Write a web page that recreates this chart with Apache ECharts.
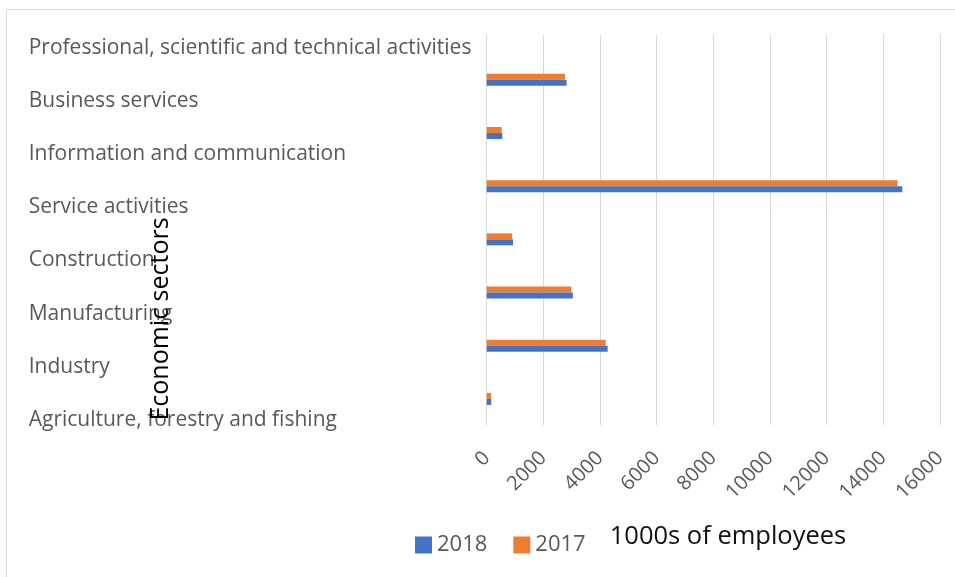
<!DOCTYPE html>
<html>
<head>
<meta charset="utf-8">
<script src="https://cdn.jsdelivr.net/npm/echarts@6/dist/echarts.min.js"></script>
<style>
  html, body { margin: 0; padding: 0; background: #fff; }
  #chart { width: 955px; height: 577px; }
</style>
</head>
<body>
<div id="chart"></div>
<script>
// Employees by economic sector, thousands
const sectors = [
  'Agriculture, forestry and fishing',
  'Industry',
  'Manufacturing',
  'Construction',
  'Service activities',
  'Information and communication',
  'Business services',
  'Professional, scientific and technical activities'
];
const values2018 = [160, 4270, 3040, 930, 14670, 550, 2820, null];
const values2017 = [150, 4200, 2990, 900, 14500, 530, 2760, null];
const xTicks = { min: 0, max: 16000, interval: 2000 };

const FONT = 'Open Sans';
const LABEL_GREY = '#595959';
const GRID_GREY = '#d9d9d9';

const chart = echarts.init(document.getElementById('chart'), null, { renderer: 'canvas' });

chart.setOption({
  backgroundColor: '#ffffff',
  animation: false,
  textStyle: { fontFamily: FONT },
  graphic: [
    {
      type: 'rect',
      shape: { x: 6.5, y: 9.5, width: 1200, height: 1200 },
      style: { fill: 'none', stroke: GRID_GREY, lineWidth: 1 },
      silent: true
    },
    {
      type: 'text',
      x: 161,
      y: 319,
      rotation: Math.PI / 2,
      style: {
        text: 'Economic sectors',
        font: '25px "Open Sans"',
        fill: '#000000',
        align: 'center',
        verticalAlign: 'middle'
      },
      z: 100
    },
    {
      type: 'text',
      x: 728,
      y: 537,
      style: {
        text: '1000s of employees',
        font: '25.5px "Open Sans"',
        fill: '#111111',
        align: 'center',
        verticalAlign: 'middle'
      },
      z: 100
    }
  ],
  legend: {
    left: 415,
    top: 534,
    padding: 0,
    itemWidth: 17,
    itemHeight: 17,
    itemGap: 26,
    icon: 'rect',
    textStyle: { fontFamily: FONT, fontSize: 22, color: LABEL_GREY },
    data: ['2018', '2017']
  },
  grid: [
    // bars
    { left: 486.7, right: 15, top: 0, height: 425.5, containLabel: false },
    // value gridlines and tick labels
    { left: 486.7, right: 15, top: 35, height: 390, containLabel: false }
  ],
  xAxis: [
    {
      type: 'value', gridIndex: 0,
      min: xTicks.min, max: xTicks.max, interval: xTicks.interval,
      show: false
    },
    {
      type: 'value', gridIndex: 1,
      min: xTicks.min, max: xTicks.max, interval: xTicks.interval,
      axisLine: { show: false },
      axisTick: { show: false },
      splitLine: { show: true, lineStyle: { color: GRID_GREY, width: 1 } },
      axisLabel: {
        rotate: 45,
        margin: 30,
        fontFamily: FONT,
        fontSize: 20,
        color: LABEL_GREY,
        formatter: v => String(v)
      }
    }
  ],
  yAxis: [
    {
      type: 'category', gridIndex: 0,
      data: sectors,
      axisLine: { show: false },
      axisTick: { show: false },
      splitLine: { show: false },
      axisLabel: {
        align: 'left',
        margin: 458,
        fontFamily: FONT,
        fontSize: 21,
        color: LABEL_GREY,
        verticalAlign: 'top',
        lineHeight: 42
      }
    },
    {
      type: 'category', gridIndex: 1,
      data: sectors,
      show: false
    }
  ],
  series: [
    {
      name: '2017', type: 'bar',
      xAxisIndex: 0, yAxisIndex: 0,
      data: values2017,
      barWidth: 6, barGap: '0%',
      itemStyle: { color: '#ED7D31' }
    },
    {
      name: '2018', type: 'bar',
      xAxisIndex: 0, yAxisIndex: 0,
      data: values2018,
      barWidth: 6, barGap: '0%',
      itemStyle: { color: '#4472C4' }
    }
  ]
});
</script>
</body>
</html>
